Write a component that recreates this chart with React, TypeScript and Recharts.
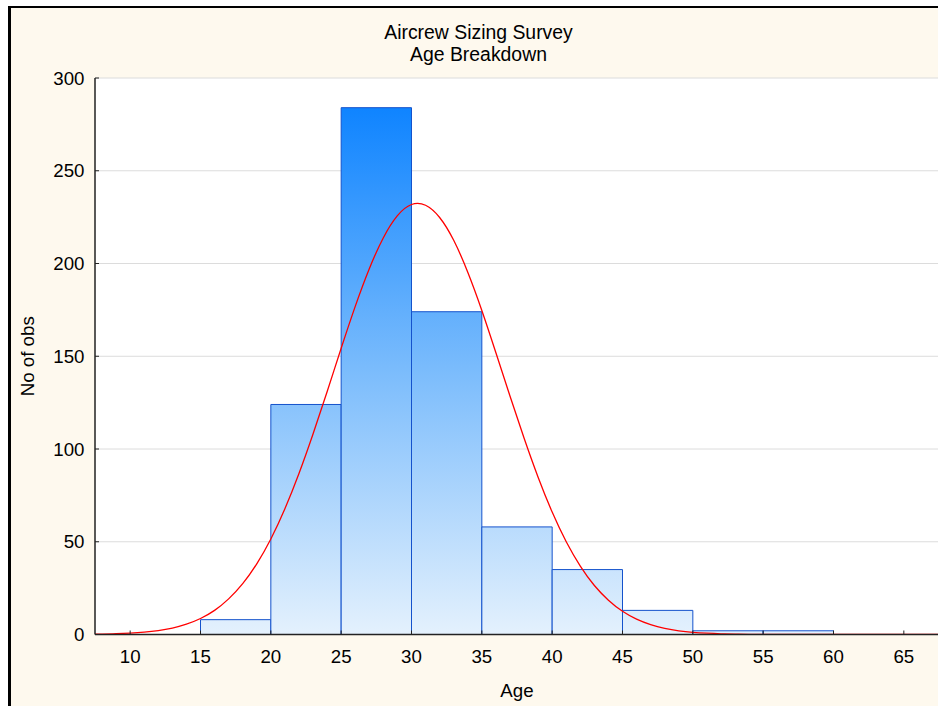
import React from 'react';
import {
  ComposedChart,
  Line,
  XAxis,
  YAxis,
  CartesianGrid,
  ReferenceArea,
  Label,
} from 'recharts';

// Histogram bins (age ranges) and observed counts
const binStarts = [15, 20, 25, 30, 35, 40, 45, 50, 55];
const binEnds = [20, 25, 30, 35, 40, 45, 50, 55, 60];
const counts = [8, 124, 284, 174, 58, 35, 13, 2, 2];

// Fitted normal curve
const curveAges = [
  7.5, 8, 9, 10, 11, 12, 13, 14, 15, 16, 17, 18, 19, 20, 21, 22, 23, 24, 25, 26, 27, 28, 29, 30,
  31, 32, 33, 34, 35, 36, 37, 38, 39, 40, 41, 42, 43, 44, 45, 46, 47, 48, 49, 50, 51, 52, 53, 54,
  55, 56, 57, 58, 60, 62, 64, 66, 67.5,
];
const curveFit = [
  0.16, 0.22, 0.41, 0.73, 1.26, 2.12, 3.48, 5.56, 8.63, 13.0, 19.2, 27.4, 38.1, 51.5, 67.8, 86.8,
  108.1, 130.9, 154.3, 176.9, 197.2, 213.9, 225.8, 231.8, 231.4, 224.8, 212.5, 195.3, 174.7, 151.9,
  128.6, 105.9, 84.8, 66.0, 50.0, 36.9, 26.4, 18.5, 12.5, 8.27, 5.31, 3.32, 2.01, 1.19, 0.69, 0.38,
  0.21, 0.11, 0.06, 0.03, 0.01, 0.01, 0, 0, 0, 0, 0,
];

const xTicks = [10, 15, 20, 25, 30, 35, 40, 45, 50, 55, 60, 65];
const yTicks = [0, 50, 100, 150, 200, 250, 300];
const xDomain = [7.5, 67.5];
const yDomain = [0, 300];

const titleLines = ['Aircrew Sizing Survey', 'Age Breakdown'];
const xLabel = 'Age';
const yLabel = 'No of obs';

const data = curveAges.map((a, i) => ({ age: a, fit: curveFit[i] }));

const FONT = '"Liberation Sans", Arial, Helvetica, sans-serif';
const CHART_W = 1000;
const CHART_H = 760;
const MARGIN = { top: 78, right: 61, bottom: 61.5, left: 0 };
const X_AXIS_H = 64;
const Y_AXIS_W = 95;
const PLOT_TOP = MARGIN.top;
const PLOT_BOTTOM = CHART_H - MARGIN.bottom - X_AXIS_H;
const maxCount = Math.max(...counts);
const gradTop = PLOT_BOTTOM - ((PLOT_BOTTOM - PLOT_TOP) * maxCount) / yDomain[1];

const tickStyle = { fontSize: 18.7, fill: '#000', fontFamily: FONT };

export default function App() {
  return (
    <div
      style={{
        position: 'absolute',
        left: 0,
        top: 0,
        width: 938,
        height: 706,
        overflow: 'hidden',
        background: '#fff',
        fontFamily: FONT,
      }}
    >
      <div
        style={{
          position: 'absolute',
          left: 8,
          top: 6,
          width: 1200,
          height: 1000,
          borderLeft: '3px solid #000',
          borderTop: '2px solid #000',
          background: '#FEF9EE',
        }}
      />
      <div
        style={{
          position: 'absolute',
          left: 0,
          top: 20.6,
          width: 957,
          textAlign: 'center',
          fontSize: 19.4,
          lineHeight: '22px',
          color: '#000',
          fontFamily: FONT,
        }}
      >
        {titleLines.map((t) => (
          <div key={t}>{t}</div>
        ))}
      </div>
      <div style={{ position: 'absolute', left: 0, top: 0 }}>
        <ComposedChart width={CHART_W} height={CHART_H} data={data} margin={MARGIN}>
          <defs>
            <linearGradient
              id="barGrad"
              gradientUnits="userSpaceOnUse"
              x1="0"
              y1={gradTop}
              x2="0"
              y2={PLOT_BOTTOM}
            >
              <stop offset="0%" stopColor="#0F84FF" />
              <stop offset="50%" stopColor="#7BBCFC" />
              <stop offset="100%" stopColor="#E4F1FD" />
            </linearGradient>
          </defs>
          <CartesianGrid
            vertical={false}
            stroke="#DCDCDC"
            fill="#FFFFFF"
            fillOpacity={1}
            yAxisId={0}
            xAxisId={0}
          />
          <XAxis
            xAxisId={0}
            dataKey="age"
            type="number"
            domain={xDomain}
            ticks={xTicks}
            allowDataOverflow
            height={X_AXIS_H}
            tickSize={-4}
            tickMargin={19.5}
            tick={tickStyle}
            stroke="#222"
            axisLine={{ stroke: '#222', strokeWidth: 1.5 }}
            tickLine={{ stroke: '#222' }}
            interval={0}
          >
            <Label
              value={xLabel}
              position="insideBottom"
              offset={1.8}
              style={{ fontSize: 18.7, fill: '#000', fontFamily: FONT }}
            />
          </XAxis>
          <XAxis
            xAxisId="top"
            orientation="top"
            dataKey="age"
            type="number"
            domain={xDomain}
            ticks={xTicks}
            allowDataOverflow
            height={0}
            tickSize={-4}
            tickFormatter={() => ''}
            axisLine={{ stroke: '#222', strokeWidth: 1.5 }}
            tickLine={{ stroke: '#222' }}
            interval={0}
          />
          <YAxis
            yAxisId={0}
            type="number"
            domain={yDomain}
            ticks={yTicks}
            allowDataOverflow
            width={Y_AXIS_W}
            tickSize={-4}
            tickMargin={14.5}
            tick={tickStyle}
            axisLine={{ stroke: '#222', strokeWidth: 1.5 }}
            tickLine={{ stroke: '#222' }}
            interval={0}
          >
            <Label
              value={yLabel}
              angle={-90}
              position="insideLeft"
              offset={27.5}
              style={{ textAnchor: 'middle', fontSize: 18.7, fill: '#000', fontFamily: FONT }}
            />
          </YAxis>
          {counts.map((c, i) => (
            <ReferenceArea
              key={i}
              xAxisId={0}
              yAxisId={0}
              x1={binStarts[i]}
              x2={binEnds[i]}
              y1={0}
              y2={c}
              fill="url(#barGrad)"
              fillOpacity={1}
              stroke="#1452CC"
              strokeWidth={1}
              ifOverflow="visible"
            />
          ))}
          <Line
            xAxisId={0}
            yAxisId={0}
            type="natural"
            dataKey="fit"
            stroke="#FF0000"
            strokeWidth={1.3}
            dot={false}
            activeDot={false}
            isAnimationActive={false}
          />
        </ComposedChart>
      </div>
    </div>
  );
}
